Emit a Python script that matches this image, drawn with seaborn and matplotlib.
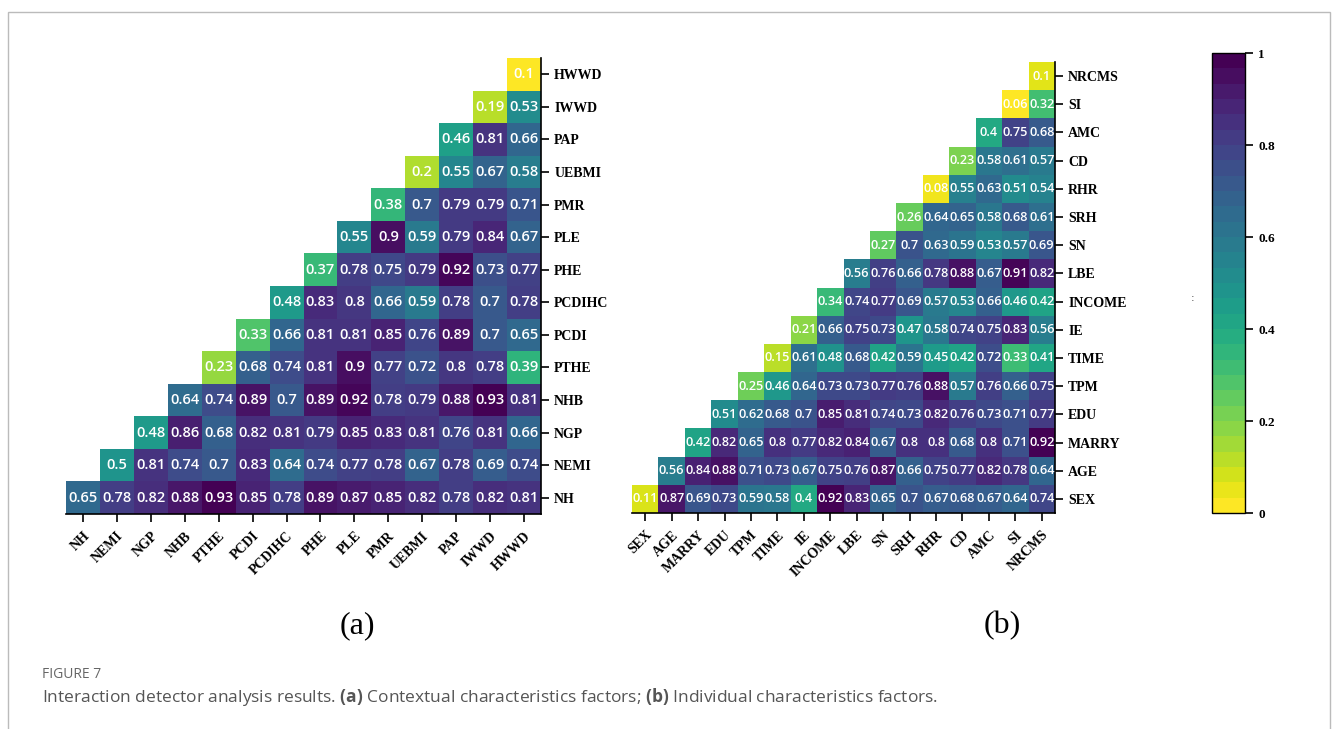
import numpy as np
import pandas as pd
import matplotlib
matplotlib.use("Agg")
import matplotlib.pyplot as plt
from matplotlib.patches import Rectangle
from matplotlib.cm import ScalarMappable
from matplotlib.colors import Normalize
import seaborn as sns

# factores (a) contextuales
factors_a = ['NH', 'NEMI', 'NGP', 'NHB', 'PTHE', 'PCDI', 'PCDIHC', 'PHE',
             'PLE', 'PMR', 'UEBMI', 'PAP', 'IWWD', 'HWWD']
# cada fila: valores desde la diagonal hacia la derecha
rows_a = [
    [0.65, 0.78, 0.82, 0.88, 0.93, 0.85, 0.78, 0.89, 0.87, 0.85, 0.82, 0.78, 0.82, 0.81],
    [0.5, 0.81, 0.74, 0.7, 0.83, 0.64, 0.74, 0.77, 0.78, 0.67, 0.78, 0.69, 0.74],
    [0.48, 0.86, 0.68, 0.82, 0.81, 0.79, 0.85, 0.83, 0.81, 0.76, 0.81, 0.66],
    [0.64, 0.74, 0.89, 0.7, 0.89, 0.92, 0.78, 0.79, 0.88, 0.93, 0.81],
    [0.23, 0.68, 0.74, 0.81, 0.9, 0.77, 0.72, 0.8, 0.78, 0.39],
    [0.33, 0.66, 0.81, 0.81, 0.85, 0.76, 0.89, 0.7, 0.65],
    [0.48, 0.83, 0.8, 0.66, 0.59, 0.78, 0.7, 0.78],
    [0.37, 0.78, 0.75, 0.79, 0.92, 0.73, 0.77],
    [0.55, 0.9, 0.59, 0.79, 0.84, 0.67],
    [0.38, 0.7, 0.79, 0.79, 0.71],
    [0.2, 0.55, 0.67, 0.58],
    [0.46, 0.81, 0.66],
    [0.19, 0.53],
    [0.1],
]

# factores (b) individuales
factors_b = ['SEX', 'AGE', 'MARRY', 'EDU', 'TPM', 'TIME', 'IE', 'INCOME',
             'LBE', 'SN', 'SRH', 'RHR', 'CD', 'AMC', 'SI', 'NRCMS']
rows_b = [
    [0.11, 0.87, 0.69, 0.73, 0.59, 0.58, 0.4, 0.92, 0.83, 0.65, 0.7, 0.67, 0.68, 0.67, 0.64, 0.74],
    [0.56, 0.84, 0.88, 0.71, 0.73, 0.67, 0.75, 0.76, 0.87, 0.66, 0.75, 0.77, 0.82, 0.78, 0.64],
    [0.42, 0.82, 0.65, 0.8, 0.77, 0.82, 0.84, 0.67, 0.8, 0.8, 0.68, 0.8, 0.71, 0.92],
    [0.51, 0.62, 0.68, 0.7, 0.85, 0.81, 0.74, 0.73, 0.82, 0.76, 0.73, 0.71, 0.77],
    [0.25, 0.46, 0.64, 0.73, 0.73, 0.77, 0.76, 0.88, 0.57, 0.76, 0.66, 0.75],
    [0.15, 0.61, 0.48, 0.68, 0.42, 0.59, 0.45, 0.42, 0.72, 0.33, 0.41],
    [0.21, 0.66, 0.75, 0.73, 0.47, 0.58, 0.74, 0.75, 0.83, 0.56],
    [0.34, 0.74, 0.77, 0.69, 0.57, 0.53, 0.66, 0.46, 0.42],
    [0.56, 0.76, 0.66, 0.78, 0.88, 0.67, 0.91, 0.82],
    [0.27, 0.7, 0.63, 0.59, 0.53, 0.57, 0.69],
    [0.26, 0.64, 0.65, 0.58, 0.68, 0.61],
    [0.08, 0.55, 0.63, 0.51, 0.54],
    [0.23, 0.58, 0.61, 0.57],
    [0.4, 0.75, 0.68],
    [0.06, 0.32],
    [0.1],
]

cbar_ticks = [0, 0.2, 0.4, 0.6, 0.8, 1]
cbar_labels = ['0', '0.2', '0.4', '0.6', '0.8', '1']


def build_matrix(factors, rows):
    n = len(factors)
    m = np.full((n, n), np.nan)
    for i, vals in enumerate(rows):
        m[i, i:i + len(vals)] = vals
    # fila superior = último factor
    return pd.DataFrame(m[::-1], index=factors[::-1], columns=factors)


plt.rcParams['mathtext.fontset'] = 'custom'
plt.rcParams['mathtext.bf'] = 'Open Sans:bold'
plt.rcParams['mathtext.rm'] = 'Open Sans'

cmap = plt.get_cmap('viridis_r')
cmap_bar = plt.get_cmap('viridis_r').resampled(30)
tick_font = dict(family='Liberation Serif', weight='bold')

fig = plt.figure(figsize=(13.33, 7.29), dpi=100)
W, H = 1333, 729


def px_axes(x0, y0, x1, y1):
    return fig.add_axes([x0 / W, 1 - y1 / H, (x1 - x0) / W, (y1 - y0) / H])


def draw_panel(ax, df, fsize, lsize):
    # escala de color ajustada al rango de cada panel
    sns.heatmap(df, ax=ax, cmap=cmap, cbar=False,
                vmin=np.nanmin(df.values), vmax=np.nanmax(df.values),
                annot=True, fmt='g',
                annot_kws=dict(color='white', fontsize=fsize, family='Open Sans',
                               weight='semibold'))
    ax.yaxis.tick_right()
    ax.set_xlabel('')
    ax.set_ylabel('')
    for s in ['top', 'left']:
        ax.spines[s].set_visible(False)
    for s in ['right', 'bottom']:
        ax.spines[s].set_visible(True)
        ax.spines[s].set_color('black')
        ax.spines[s].set_linewidth(1.2)
    ax.tick_params(axis='both', length=6, width=1.2, color='black', direction='out')
    ax.set_xticklabels(df.columns, rotation=45, ha='right', rotation_mode='anchor',
                       fontsize=lsize, **tick_font)
    ax.set_yticklabels(df.index, rotation=0, fontsize=lsize, **tick_font)
    ax.tick_params(axis='x', pad=5)


ax_a = px_axes(66, 58, 541, 514)
draw_panel(ax_a, build_matrix(factors_a, rows_a), 10.5, 10)

ax_b = px_axes(632, 62, 1055, 513)
draw_panel(ax_b, build_matrix(factors_b, rows_b), 9.2, 10)

# barra de color
cax = px_axes(1212, 53, 1245, 513)
cb = fig.colorbar(ScalarMappable(norm=Normalize(0, 1), cmap=cmap_bar), cax=cax,
                  ticks=cbar_ticks)
cb.ax.set_yticklabels(cbar_labels, fontsize=9.5, **tick_font)
cb.outline.set_linewidth(1.0)
cb.ax.tick_params(length=6, width=1.2)

fig.text(1193 / W, 1 - 298 / H, ':', fontsize=8, color='#444444', ha='center', va='center')

# etiquetas de panel
fig.text(357 / W, 1 - 626 / H, '(a)', fontsize=23, family='Liberation Serif',
         ha='center', va='center')
fig.text(1002 / W, 1 - 626 / H, '(b)', fontsize=23, family='Liberation Serif',
         ha='center', va='center')

# marco y leyenda de figura
fig.patches.append(Rectangle((8 / W, -0.05), 1322 / W, 1.05 - 12 / H,
                             transform=fig.transFigure, fill=False,
                             edgecolor='#bbbbbb', linewidth=1.0))
fig.text(42 / W, 1 - 675 / H, 'FIGURE 7', fontsize=10, family='Open Sans',
         color='#666666', va='center')
fig.text(42 / W, 1 - 697 / H,
         r'Interaction detector analysis results. $\mathbf{(a)}$ Contextual characteristics factors; '
         r'$\mathbf{(b)}$ Individual characteristics factors.',
         fontsize=12.5, family='Open Sans', color='#555555', va='center')

fig.savefig('out.png', dpi=100)
